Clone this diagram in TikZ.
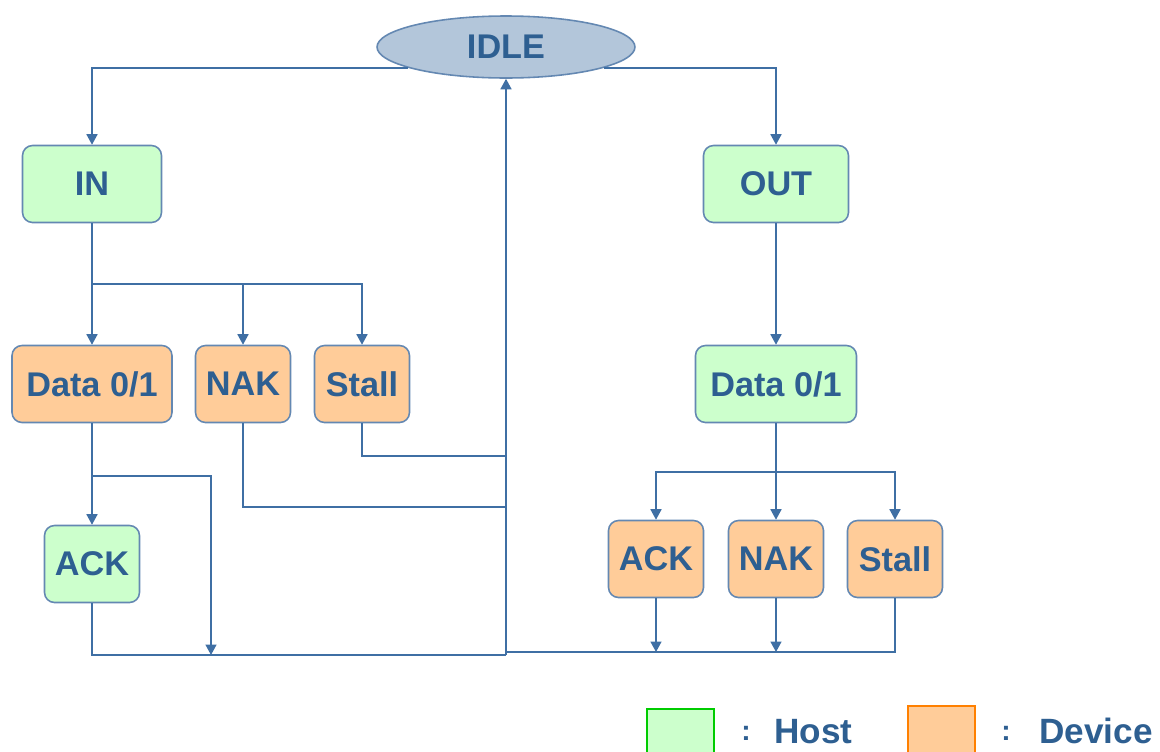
\documentclass[tikz,border=0pt]{standalone}
\usepackage{fontspec}
\setmainfont{Liberation Sans}
\usetikzlibrary{shapes.geometric,arrows.meta}
\definecolor{hostgreen}{HTML}{CCFFCC}
\definecolor{devorange}{HTML}{FFCC99}
\definecolor{idlefill}{HTML}{B3C6DA}
\definecolor{boxblue}{HTML}{6488B2}
\definecolor{lineblue}{HTML}{3F6FA4}
\definecolor{textblue}{HTML}{2E5F91}

\begin{document}
\begin{tikzpicture}[x=0.02cm,y=-0.02cm,
  state/.style={draw=boxblue, line width=0.9pt, rounded corners=0.2cm,
    minimum width=1.9cm, minimum height=1.54cm, inner sep=0pt,
    text=textblue, font=\bfseries\fontsize{19.5}{23}\selectfont},
  host/.style={state, fill=hostgreen},
  device/.style={state, fill=devorange},
  link/.style={draw=lineblue, line width=0.9pt},
  arr/.style={link, -{Triangle[length=0.21cm,width=0.22cm]}},
  keytext/.style={text=textblue, inner sep=0pt, anchor=base west,
    font=\bfseries\fontsize{20}{24}\selectfont},
  keycolon/.style={keytext, font=\bfseries\fontsize{16}{20}\selectfont}]
% Page size
\useasboundingbox (0,0) rectangle (1160,751);
% Idle state
\node[ellipse, draw=boxblue, line width=0.9pt, fill=idlefill, text=textblue,
  minimum width=5.16cm, minimum height=1.24cm, inner sep=0pt,
  font=\bfseries\fontsize{19.5}{23}\selectfont] (idle) at (506,47) {IDLE};
% IN branch
\node[host, minimum width=2.78cm] (in) at (92,184) {IN};
\node[device, minimum width=3.2cm] (dataL) at (92,384) {Data 0/1};
\node[device] (nakL) at (243,384) {NAK};
\node[device] (stallL) at (362,384) {Stall};
\node[host] (ackL) at (92,564) {ACK};
% OUT branch
\node[host, minimum width=2.9cm] (out) at (776,184) {OUT};
\node[host, minimum width=3.22cm] (dataR) at (776,384) {Data 0/1};
\node[device] (ackR) at (656,559) {ACK};
\node[device] (nakR) at (776,559) {NAK};
\node[device] (stallR) at (895,559) {Stall};
% Junction points
\coordinate (inSplit) at (92,284);
\coordinate (dataSplit) at (92,476);
\coordinate (ackJoin) at (211,655);
\coordinate (stallTurn) at (506,456);
\coordinate (nakTurn) at (506,507);
\coordinate (ret) at (506,655);
\coordinate (retR) at (506,652);
\coordinate (outSplit) at (776,472);
% From idle
\draw[arr] (idle.192) -| (in);
\draw[arr] (idle.348) -| (out);
% IN side
\draw[arr] (in) -- (dataL);
\draw[arr] (inSplit) -| (nakL);
\draw[arr] (inSplit) -| (stallL);
\draw[arr] (dataL) -- (ackL);
\draw[arr] (dataSplit) -| (ackJoin);
\draw[link] (stallL) |- (stallTurn);
\draw[link] (nakL) |- (nakTurn);
\draw[link] (ackL) |- (ret);
% OUT side
\draw[arr] (out) -- (dataR);
\draw[arr] (dataR) -- (nakR);
\draw[arr] (outSplit) -| (ackR);
\draw[arr] (outSplit) -| (stallR);
\draw[link] (stallR) |- (retR);
\draw[arr] (ackR) -- (ackR |- retR);
\draw[arr] (nakR) -- (nakR |- retR);
% Back to idle
\draw[arr] (ret) -- (idle);
% Legend
\draw[draw=green!80!black, fill=hostgreen, line width=0.9pt] (647,709) rectangle (714,760);
\draw[draw=orange, fill=devorange, line width=0.9pt] (908,706) rectangle (975,760);
\node[keycolon] (hostColon) at (741,740) {:};
\node[keytext] (hostText) at (774,743) {Host};
\node[keycolon] (devColon) at (1001,740) {:};
\node[keytext] (devText) at (1039,743) {Device};
\end{tikzpicture}
\end{document}
